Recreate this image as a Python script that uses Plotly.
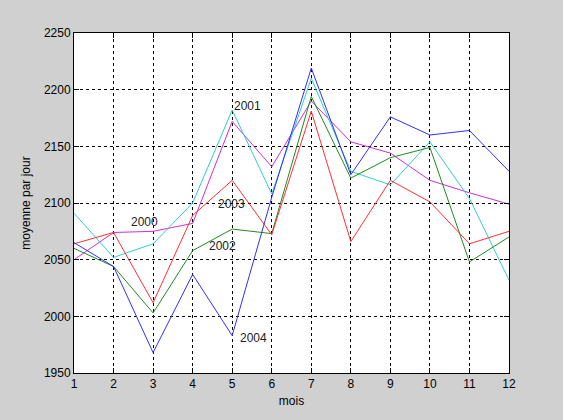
import plotly.graph_objects as go

mois = list(range(1, 13))

# moyenne par jour, par annee
y2000 = [2050, 2074, 2075, 2082, 2172, 2132, 2190, 2154, 2144, 2120, 2109, 2099]
y2001 = [2091, 2052, 2064, 2100, 2182, 2108, 2210, 2128, 2116, 2154, 2104, 2032]
y2002 = [2060, 2044, 2003, 2058, 2077, 2073, 2194, 2122, 2140, 2149, 2048, 2070]
y2003 = [2064, 2074, 2012, 2089, 2120, 2072, 2181, 2066, 2120, 2101, 2064, 2075]
y2004 = [2065, 2044, 1968, 2037, 1983, 2105, 2219, 2125, 2176, 2160, 2164, 2128]

series = [
    ("2000", y2000, '#d030d0'),
    ("2001", y2001, '#30cccc'),
    ("2002", y2002, '#208a20'),
    ("2003", y2003, '#ff3030'),
    ("2004", y2004, '#3030ff'),
]

# positions des etiquettes (x, y)
labels = [
    ("2000", 2.4, 2083),
    ("2001", 5.0, 2186),
    ("2002", 4.36, 2062),
    ("2003", 4.6, 2099),
    ("2004", 5.15, 1981),
]

fig = go.Figure()
for name, vals, col in series:
    fig.add_trace(go.Scatter(x=mois, y=vals, mode='lines', name=name,
                             line=dict(color=col, width=1)))

for txt, lx, ly in labels:
    fig.add_annotation(x=lx, y=ly, text=txt, showarrow=False,
                       xanchor='left', yanchor='middle',
                       font=dict(size=12, color='#222222'))

axis_style = dict(
    showline=True, linecolor='black', linewidth=1, mirror='ticks',
    ticks='inside', ticklen=5, tickcolor='black',
    showgrid=True, gridcolor='black', gridwidth=1, griddash='3px,3px',
    zeroline=False, tickfont=dict(size=12, color='black'),
    automargin=False,
)

fig.update_layout(
    width=563, height=420,
    showlegend=False,
    paper_bgcolor='#d0d0d0',
    plot_bgcolor='white',
    font=dict(family='Arial, Liberation Sans, sans-serif', color='black'),
    margin=dict(l=74, r=54, t=33, b=47),
    xaxis=dict(range=[1, 12], dtick=1, tick0=1,
               title=dict(text='mois', font=dict(size=12), standoff=6), **axis_style),
    yaxis=dict(range=[1950, 2250], dtick=50,
               title=dict(text='moyenne par jour', font=dict(size=12), standoff=10), **axis_style),
)

# no default body margin, so the figure fills the window
fig.write_html("out.html", config={'displayModeBar': False},
               post_script="document.body.style.margin='0';document.body.style.background='#d0d0d0';")
